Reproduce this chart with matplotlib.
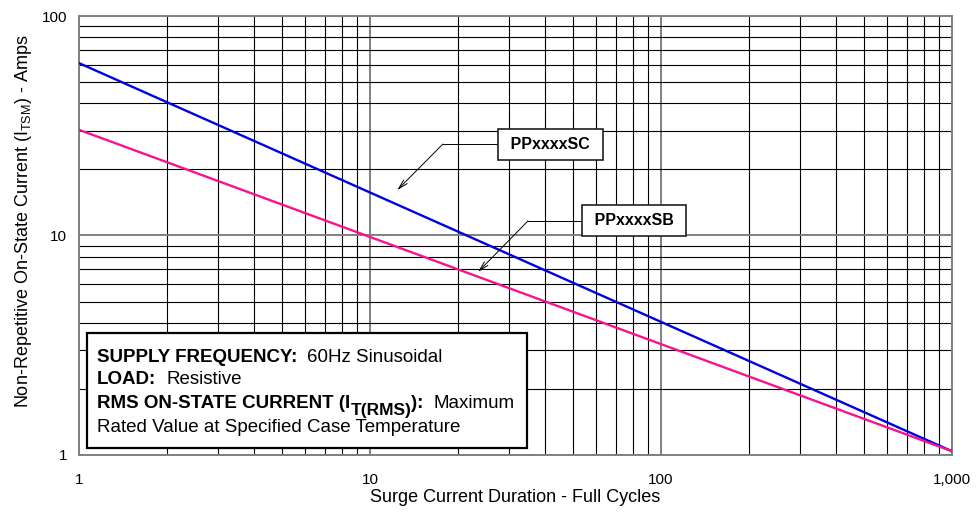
import matplotlib
matplotlib.use('Agg')
from matplotlib import pyplot as plt
from matplotlib.patches import Rectangle
from matplotlib.ticker import FixedLocator, LogLocator, NullFormatter

plt.rcParams['font.family'] = ['Liberation Sans', 'DejaVu Sans']
plt.rcParams['mathtext.fontset'] = 'custom'
plt.rcParams['mathtext.rm'] = 'Liberation Sans'
plt.rcParams['mathtext.bf'] = 'Liberation Sans:bold'

# surge cycles vs peak current
cycles = [1, 1000]
sc_amps = [61.0, 1.04]
sb_amps = [30.3, 1.04]

x_ticks = [1, 10, 100, 1000]
x_tick_labels = ['1', '10', '100', '1,000']
y_ticks = [1, 10, 100]
y_tick_labels = ['1', '10', '100']

fig = plt.figure(figsize=(9.77, 5.13), dpi=100)
ax = fig.add_axes([0.0809, 0.1131, 0.8935, 0.8557])

ax.set_xscale('log')
ax.set_yscale('log')
ax.set_xlim(1, 1000)
ax.set_ylim(1, 100)

ax.plot(cycles, sc_amps, color='#0000e0', lw=1.7, zorder=3)
ax.plot(cycles, sb_amps, color='#f5148c', lw=1.7, zorder=3)

ax.xaxis.set_major_locator(FixedLocator(x_ticks))
ax.yaxis.set_major_locator(FixedLocator(y_ticks))
ax.set_xticklabels(x_tick_labels)
ax.set_yticklabels(y_tick_labels)
ax.xaxis.set_minor_locator(LogLocator(base=10, subs=range(2, 10)))
ax.yaxis.set_minor_locator(LogLocator(base=10, subs=range(2, 10)))
ax.xaxis.set_minor_formatter(NullFormatter())
ax.yaxis.set_minor_formatter(NullFormatter())
ax.tick_params(which='both', length=0, labelsize=11)
ax.tick_params(axis='x', pad=13)
ax.tick_params(axis='y', pad=8.5)

ax.grid(which='major', color='#808080', lw=1.4)
ax.grid(which='minor', color='black', lw=0.8)
for s in ax.spines.values():
    s.set_color('#808080')
    s.set_linewidth(1.4)

ax.set_xlabel('Surge Current Duration - Full Cycles', fontsize=13)
ax.set_ylabel('Non-Repetitive On-State Current (I$_{\\rm TSM}$) - Amps', fontsize=13)
ax.xaxis.set_label_coords(0.5, -0.0775)
ax.yaxis.set_label_coords(-0.052, 0.533)

# callouts
box_kw = dict(boxstyle='square,pad=0.5', fc='white', ec='#202020', lw=1.2)
arrow_kw = dict(arrowstyle='->,head_length=0.7,head_width=0.18', color='black', lw=0.7,
                shrinkA=0, shrinkB=0)

ax.text(41.7, 26.1, ' PPxxxxSC ', fontsize=11.5, fontweight='bold', ha='center', va='center',
        bbox=box_kw, zorder=5)
ax.plot([30.0, 17.8], [26.1, 26.1], color='black', lw=0.7, zorder=4)
ax.annotate('', xy=(12.4, 16.1), xytext=(17.8, 26.1), arrowprops=arrow_kw, zorder=4)

ax.text(80.8, 11.65, ' PPxxxxSB ', fontsize=11.5, fontweight='bold', ha='center', va='center',
        bbox=box_kw, zorder=5)
ax.plot([60.0, 34.9], [11.65, 11.65], color='black', lw=0.7, zorder=4)
ax.annotate('', xy=(23.5, 6.82), xytext=(34.9, 11.65), arrowprops=arrow_kw, zorder=4)

# conditions box
ax.add_patch(Rectangle((0.0092, 0.0159), 0.504, 0.262, transform=ax.transAxes,
                       fc='white', ec='black', lw=1.6, zorder=5))

renderer = fig.canvas.get_renderer()


def put(x, y, s, dy=0.0, **kw):
    # place a piece of text at axes x and return the axes x of its right edge
    t = ax.text(x, y + dy, s, transform=ax.transAxes, va='baseline', zorder=6, **kw)
    bb = t.get_window_extent(renderer)
    return ax.transAxes.inverted().transform((bb.x1, bb.y0))[0]


gap = 10 / 873
x0 = 0.0206
bold = dict(fontsize=13.5, fontweight='bold')
plain = dict(fontsize=13.5)

y = 0.2118
xe = put(x0, y, 'SUPPLY FREQUENCY:', **bold)
put(xe + gap, y, '60Hz Sinusoidal', **plain)

y = 0.1617
xe = put(x0, y, 'LOAD:', **bold)
put(xe + gap, y, 'Resistive', **plain)

y = 0.1071
xe = put(x0, y, 'RMS ON-STATE CURRENT (I', **bold)
xe = put(xe, y, 'T(RMS)', dy=-0.016, fontsize=12.5, fontweight='bold')
xe = put(xe, y, '):', **bold)
put(xe + gap, y, 'Maximum', **plain)

y = 0.0524
put(x0, y, 'Rated Value at Specified Case Temperature', **plain)

fig.savefig('out.png', dpi=100)
